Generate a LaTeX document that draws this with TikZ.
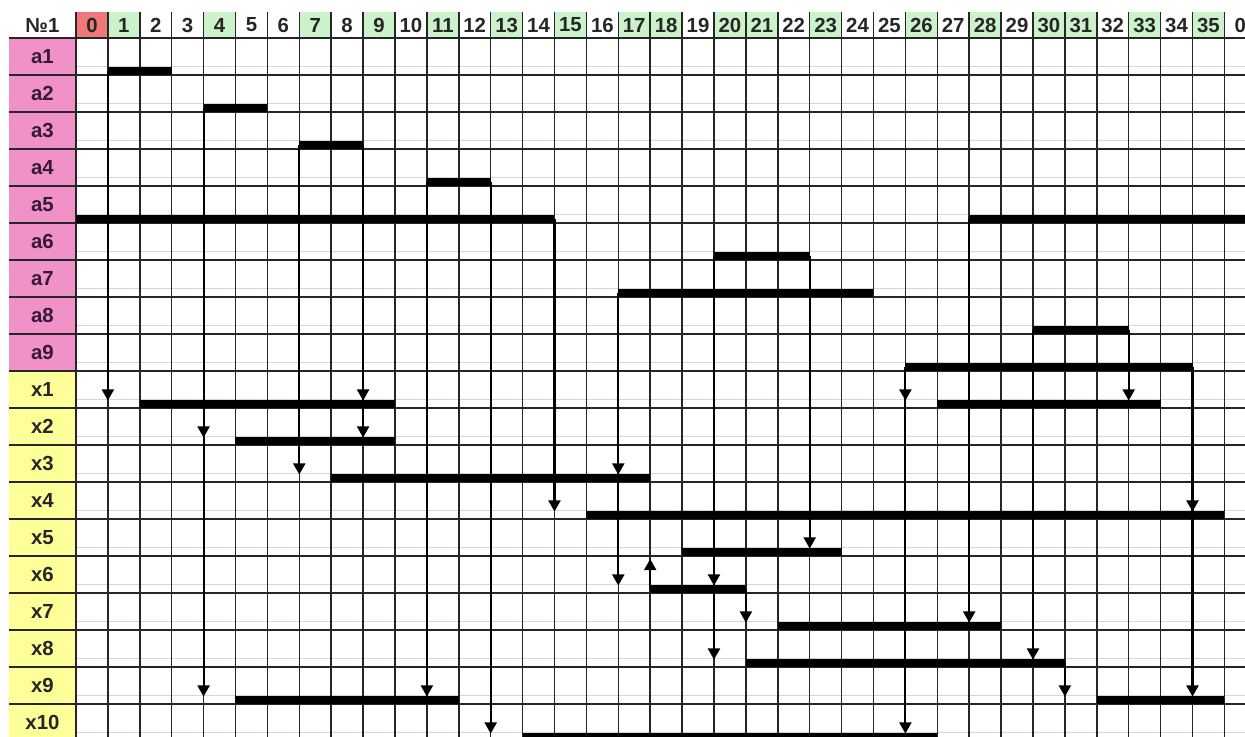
\documentclass[tikz,border=0pt]{standalone}
\usepackage{fontspec}
\setmainfont{Liberation Sans}
\usetikzlibrary{arrows.meta}
\definecolor{hdred}{RGB}{240,120,120}
\definecolor{hdgreen}{RGB}{204,242,204}
\definecolor{rowpink}{RGB}{240,145,200}
\definecolor{rowyellow}{RGB}{255,255,153}
\definecolor{faint}{RGB}{212,212,226}
\definecolor{labtext}{RGB}{55,25,55}

\begin{document}
\begin{tikzpicture}[
    x=0.7975cm, y=-0.925cm,
    cell/.style={inner sep=0pt, font=\fontsize{14.5}{16}\selectfont\bfseries, text=black!85},
    gridline/.style={black!85, line width=1.1pt},
    faintline/.style={faint, line width=0.8pt},
    job/.style={line width=5.5pt},
    dep/.style={-{Triangle[length=0.28cm,width=0.3cm]}, line width=1.5pt}
  ]
  \useasboundingbox (-2.382,-1.027) rectangle (36.646,18.865);
  \clip (-2.382,-1.027) rectangle (36.646,18.865);

  % header and row labels
  \fill[hdred] (0,-0.703) rectangle (1,0);
  \foreach \k in {1,4,7,9,11,13,15,17,18,20,21,23,26,28,30,31,33,35}
    \fill[hdgreen] (\k,-0.703) rectangle (\k+1,0);
  \fill[rowpink] (-2.1,0) rectangle (0,9);
  \fill[rowyellow] (-2.1,9) rectangle (0,19);

  \foreach \r in {0,...,18}
    \draw[faintline] (0,\r+0.76) -- (37,\r+0.76);
  \foreach \j in {0,...,37}
    \draw[gridline] (\j,-0.703) -- (\j,19);
  \foreach \r in {0,...,19}
    \draw[gridline] (-2.1,\r) -- (37,\r);

  \node[cell] (num) at (-1.05,-0.35) {№1};
  \foreach \k in {0,...,35}
    \node[cell] (h\k) at (\k+0.5,-0.35) {\k};
  \node[cell] (h36) at (36.5,-0.35) {0};
  \foreach \r in {1,...,9}
    \node[cell, text=labtext] (a\r) at (-1.05,\r-0.5) {a\r};
  \foreach \r in {1,...,10}
    \node[cell] (x\r) at (-1.05,\r+8.5) {x\r};

  % works
  \foreach \r/\a/\b in {0/1/3, 1/4/6, 2/7/9, 3/11/13, 4/0/15, 4/28/37, 5/20/23,
      6/17/25, 7/30/33, 8/26/35, 9/2/10, 9/27/34, 10/5/10, 11/8/18, 12/16/36,
      13/19/24, 14/18/21, 15/22/29, 16/21/31, 17/5/12, 17/32/36, 18/14/27}
    \draw[job] (\a,\r+0.89) -- (\b,\r+0.89);

  % links
  \foreach \j/\s/\t in {1/0/9, 4/1/10, 4/1/17, 7/2/11, 9/2/9, 9/2/10, 11/3/17,
      13/3/18, 15/4/12, 17/6/11, 17/6/14, 20/5/14, 20/5/16, 21/14/15, 23/5/13,
      26/8/9, 26/8/18, 28/4/15, 30/7/16, 33/7/9, 35/8/12, 35/8/17, 31/16/17} {
    \coordinate (src) at (\j,\s+0.89);
    \coordinate (dst) at (\j,\t+0.8);
    \draw[dep] (src) -- (dst);
  }
  \coordinate (up-src) at (18,14.89);
  \coordinate (up-dst) at (18,14.08);
  \draw[dep] (up-src) -- (up-dst);
\end{tikzpicture}
\end{document}
